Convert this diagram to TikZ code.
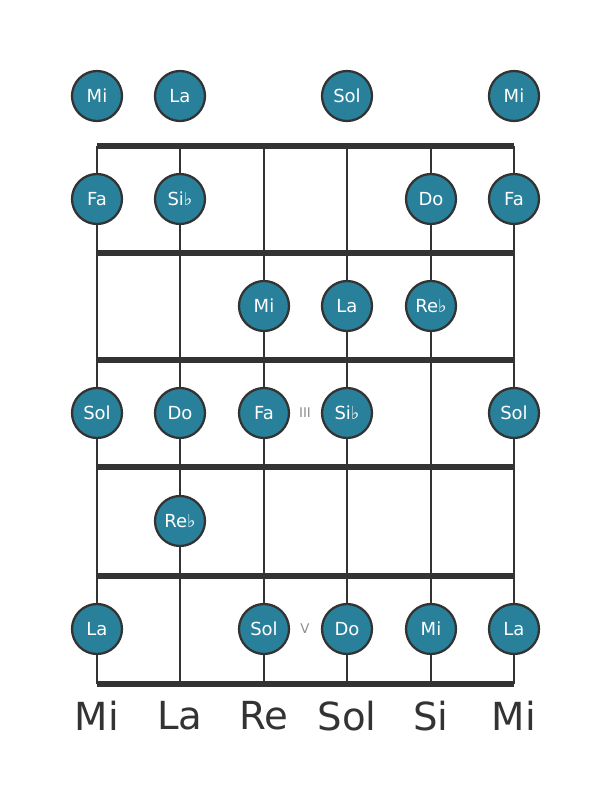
\documentclass[tikz,border=0pt]{standalone}
\usepackage{fontspec}
\setmainfont{DejaVu Sans}
\definecolor{noteblue}{RGB}{40,128,155}
\definecolor{inkgray}{RGB}{51,51,51}
\definecolor{markgray}{RGB}{140,140,140}

\begin{document}
\begin{tikzpicture}[x=0.75pt,y=-0.75pt,
  wire/.style={inkgray,line width=2.1pt},
  fret/.style={inkgray,line width=3.8pt},
  note/.style={circle,draw=inkgray,line width=1.7pt,fill=noteblue,text=white,
    minimum size=37.5pt,inner sep=0pt,font=\fontsize{13.5}{14}\selectfont},
  tuning/.style={text=inkgray,font=\fontsize{29}{32}\selectfont},
  marker/.style={text=markgray,font=\fontsize{10}{11}\selectfont}]
\useasboundingbox (0,0) rectangle (611,801);

% strings
\foreach \s/\x in {1/97,2/180,3/264,4/347,5/431,6/514}
  \coordinate (top\s) at (\x,146);
\foreach \s/\x in {1/97,2/180,3/264,4/347,5/431,6/514}
  \coordinate (bot\s) at (\x,684);
\foreach \s in {1,...,6}
  \draw[wire] (top\s) -- (bot\s);

% frets
\foreach \f/\y in {0/146,1/253,2/360,3/467,4/576,5/684}
  \draw[fret] (97,\y) coordinate (fl\f) -- (514,\y) coordinate (fr\f);

% notes: name/x/y/text
\foreach \n/\x/\y/\t in {
  o1/97/96/Mi, o2/180/96/La, o4/347/96/Sol, o6/514/96/Mi,
  a1/97/199/Fa, a2/180/199/Si♭, a5/431/199/Do, a6/514/199/Fa,
  b3/264/306/Mi, b4/347/306/La, b5/431/306/Re♭,
  c1/97/413/Sol, c2/180/413/Do, c3/264/413/Fa, c4/347/413/Si♭, c6/514/413/Sol,
  d2/180/521/Re♭,
  e1/97/629/La, e3/264/629/Sol, e4/347/629/Do, e5/431/629/Mi, e6/514/629/La}
  \node[note] (\n) at (\x,\y) {\t};

% position marks
\node[marker] (mIII) at (305,413) {III};
\node[marker] (mV) at (305,629) {V};

% tuning
\foreach \s/\t in {1/Mi,2/La,3/Re,4/Sol,5/Si,6/Mi}
  \node[tuning] (t\s) at ([yshift=-24]bot\s) {\t};
\end{tikzpicture}
\end{document}
